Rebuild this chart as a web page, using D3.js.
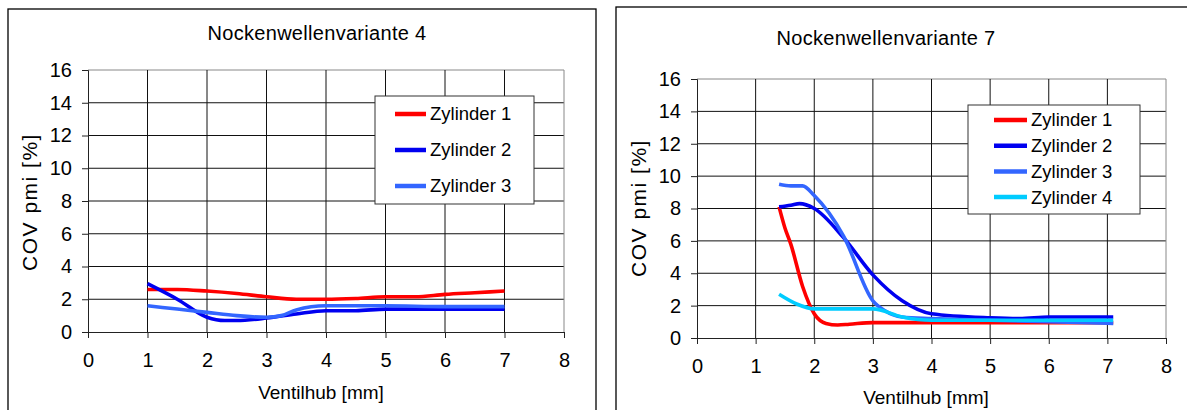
<!DOCTYPE html>
<html>
<head>
<meta charset="utf-8">
<script src="https://cdn.jsdelivr.net/npm/d3@7"></script>
<style>
  body { margin: 0; background: #fff; }
  svg { display: block; font-family: "Liberation Sans", Arial, sans-serif; }
</style>
</head>
<body>
<svg id="chart" width="1187" height="410"></svg>
<script>
// Werte
const xTicks = [0, 1, 2, 3, 4, 5, 6, 7, 8];
const yTicks = [0, 2, 4, 6, 8, 10, 12, 14, 16];

// Nockenwellenvariante 4
const v4Names = ['Zylinder 1', 'Zylinder 2', 'Zylinder 3'];
const v4Colors = ['#ff0000', '#0000f0', '#3366ff'];
const v4Zyl1 = [[1, 2.6], [1.5, 2.6], [2, 2.5], [2.5, 2.35], [3, 2.15], [3.5, 2.0], [4, 2.0], [4.5, 2.05], [5, 2.15], [5.5, 2.15], [6, 2.3], [6.5, 2.4], [7, 2.5]];
const v4Zyl2 = [[1, 2.95], [1.5, 2.0], [2, 0.9], [2.3, 0.7], [2.5, 0.7], [3, 0.85], [3.5, 1.1], [4, 1.3], [4.5, 1.3], [5, 1.4], [6, 1.4], [7, 1.4]];
const v4Zyl3 = [[1, 1.6], [1.5, 1.4], [2, 1.2], [2.5, 1.0], [3, 0.9], [3.25, 1.0], [3.5, 1.35], [4, 1.6], [5, 1.6], [6, 1.55], [7, 1.55]];

// Nockenwellenvariante 7
const v7Names = ['Zylinder 1', 'Zylinder 2', 'Zylinder 3', 'Zylinder 4'];
const v7Colors = ['#ff0000', '#0000f0', '#3366ff', '#00ccff'];
const v7Zyl1 = [[1.4, 8.1], [1.5, 6.8], [1.6, 5.8], [1.8, 3.2], [2.0, 1.5], [2.2, 0.9], [2.4, 0.8], [2.6, 0.85], [3, 0.95], [4, 0.95], [5, 0.95], [6, 0.95], [7.1, 0.95]];
const v7Zyl2 = [[1.4, 8.1], [1.6, 8.2], [1.75, 8.3], [2.0, 8.0], [2.5, 6.2], [3, 3.9], [3.5, 2.3], [4, 1.5], [5, 1.25], [5.5, 1.2], [6, 1.3], [7.1, 1.3]];
const v7Zyl3 = [[1.4, 9.5], [1.6, 9.4], [1.8, 9.4], [2.0, 8.8], [2.5, 6.3], [3.0, 2.3], [3.2, 1.7], [3.5, 1.3], [4, 1.2], [5, 1.1], [6, 1.0], [7.1, 0.9]];
const v7Zyl4 = [[1.4, 2.7], [1.7, 2.1], [2.0, 1.8], [2.5, 1.8], [3.0, 1.8], [3.5, 1.3], [4, 1.1], [5, 1.1], [6, 1.1], [7.1, 1.1]];

const svg = d3.select('#chart');

function drawChart(cfg) {
  const g = svg.append('g');

  // Rahmen
  g.append('rect')
    .attr('x', cfg.frame[0]).attr('y', cfg.frame[1])
    .attr('width', cfg.frame[2]).attr('height', cfg.frame[3])
    .attr('fill', '#fff').attr('stroke', '#000').attr('stroke-width', 1.3);

  const x = d3.scaleLinear().domain([0, 8]).range([cfg.left, cfg.right]);
  const y = d3.scaleLinear().domain([0, 16]).range([cfg.bottom, cfg.top]);

  // Gitter
  g.append('g').selectAll('line').data(yTicks.slice(1)).enter().append('line')
    .attr('x1', cfg.left).attr('x2', cfg.right)
    .attr('y1', d => y(d)).attr('y2', d => y(d))
    .attr('stroke', d => d === 16 ? '#888' : '#111').attr('stroke-width', 1);
  g.append('g').selectAll('line').data(xTicks.slice(1)).enter().append('line')
    .attr('x1', d => x(d)).attr('x2', d => x(d))
    .attr('y1', cfg.top).attr('y2', cfg.bottom)
    .attr('stroke', d => d === 8 ? '#888' : '#111').attr('stroke-width', 1);

  // Achsen
  const xAxis = g.append('g')
    .attr('transform', `translate(0,${cfg.bottom})`)
    .call(d3.axisBottom(x).tickValues(xTicks).tickSize(6).tickPadding(16));
  const yAxis = g.append('g')
    .attr('transform', `translate(${cfg.left},0)`)
    .call(d3.axisLeft(y).tickValues(yTicks).tickSize(6).tickPadding(10));
  [xAxis, yAxis].forEach(a => {
    a.select('.domain').attr('stroke', '#222');
    a.selectAll('.tick line').attr('stroke', '#222');
    a.selectAll('.tick text').attr('font-size', 20).attr('fill', '#000')
      .attr('font-family', '"Liberation Sans", Arial, sans-serif');
  });
  xAxis.selectAll('.tick text').attr('dy', '0.66em');

  // Linien
  const line = d3.line()
    .x(d => x(d[0])).y(d => y(d[1]))
    .curve(d3.curveMonotoneX);
  cfg.series.forEach((s, i) => {
    g.append('path')
      .datum(s)
      .attr('fill', 'none')
      .attr('stroke', cfg.colors[i])
      .attr('stroke-width', 3.6)
      .attr('stroke-linejoin', 'round')
      .attr('d', line);
  });

  // Titel
  g.append('text')
    .attr('x', cfg.titleX).attr('y', cfg.titleY)
    .attr('text-anchor', 'middle').attr('font-size', 20)
    .attr('letter-spacing', 0.3)
    .text(cfg.title);
  g.append('text')
    .attr('x', cfg.xTitleX).attr('y', cfg.xTitleY)
    .attr('text-anchor', 'middle').attr('font-size', 19)
    .attr('dy', '0.35em')
    .text('Ventilhub [mm]');
  g.append('text')
    .attr('transform', `translate(${cfg.yTitleX},${cfg.yTitleY}) rotate(-90)`)
    .attr('text-anchor', 'middle').attr('font-size', 21)
    .attr('letter-spacing', 1.5)
    .attr('dy', '0.35em')
    .text('COV pmi [%]');

  // Legende
  const lg = g.append('g');
  lg.append('rect')
    .attr('x', cfg.legend.x).attr('y', cfg.legend.y)
    .attr('width', cfg.legend.w).attr('height', cfg.legend.h)
    .attr('fill', '#fff').attr('stroke', '#333').attr('stroke-width', 1);
  cfg.names.forEach((n, i) => {
    const ly = cfg.legend.y0 + i * cfg.legend.step;
    lg.append('line')
      .attr('x1', cfg.legend.x + cfg.legend.lx1).attr('x2', cfg.legend.x + cfg.legend.lx2)
      .attr('y1', ly).attr('y2', ly)
      .attr('stroke', cfg.colors[i]).attr('stroke-width', 4.5);
    lg.append('text')
      .attr('x', cfg.legend.x + cfg.legend.tx).attr('y', ly)
      .attr('dy', '0.35em').attr('font-size', 18.5)
      .text(n);
  });
}

drawChart({
  frame: [8, 9, 588, 420],
  left: 88, right: 564, top: 70, bottom: 332,
  series: [v4Zyl1, v4Zyl2, v4Zyl3],
  colors: v4Colors, names: v4Names,
  title: 'Nockenwellenvariante 4', titleX: 317, titleY: 40,
  xTitleX: 321, xTitleY: 392, yTitleX: 30, yTitleY: 202,
  legend: { x: 375, y: 96, w: 159, h: 108, y0: 114, step: 36, lx1: 20, lx2: 51, tx: 55 }
});

drawChart({
  frame: [616, 7, 600, 420],
  left: 697, right: 1166, top: 79, bottom: 338,
  series: [v7Zyl1, v7Zyl2, v7Zyl3, v7Zyl4],
  colors: v7Colors, names: v7Names,
  title: 'Nockenwellenvariante 7', titleX: 886, titleY: 45,
  xTitleX: 926, xTitleY: 397, yTitleX: 639, yTitleY: 208,
  legend: { x: 968, y: 105, w: 172, h: 109, y0: 120, step: 25.7, lx1: 26, lx2: 59, tx: 63 }
});
</script>
</body>
</html>
